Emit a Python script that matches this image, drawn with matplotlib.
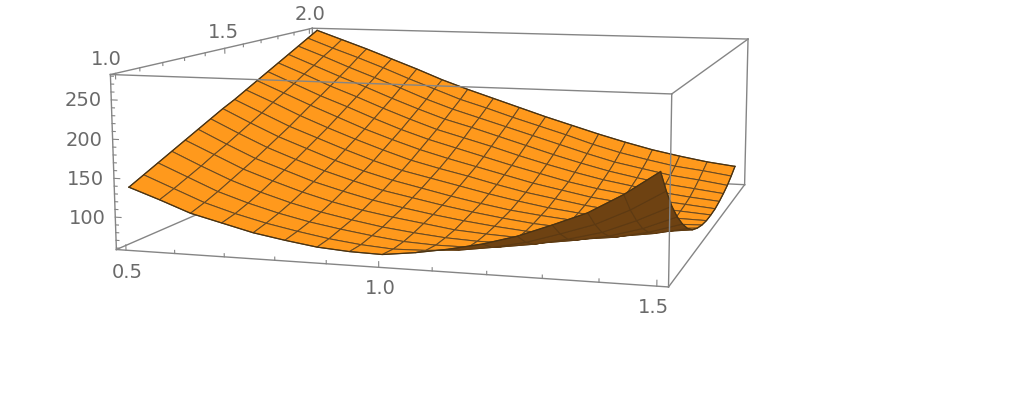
import numpy as np
import matplotlib
matplotlib.use('Agg')
import matplotlib.pyplot as plt
from mpl_toolkits.mplot3d import proj3d

plt.rcParams['font.family'] = ['DejaVu Sans']

# surface heights, rows go along y, columns along x
x_vals = np.linspace(0.5, 1.5, 17)
y_vals = np.linspace(1, 2, 17)
z_table = np.array([
    [137,123,108,98,88,81,75,72,71,76,83,92,104,120,137,161,190],
    [146,130,114,102,92,84,77,72,69,70,73,79,88,101,115,135,160],
    [155,138,121,108,97,88,81,75,70,68,68,71,77,86,97,114,134],
    [164,146,129,115,103,93,85,78,73,69,67,67,70,76,84,96,113],
    [173,155,137,123,110,99,90,83,77,71,68,66,66,69,74,83,96],
    [182,163,145,131,117,106,96,88,81,75,70,66,65,65,67,73,82],
    [191,172,154,139,125,113,102,94,86,79,73,68,65,64,64,67,72],
    [200,181,163,148,133,120,109,100,91,83,76,71,67,64,62,63,66],
    [208,190,172,157,142,128,116,107,98,89,81,74,69,65,63,61,62],
    [217,200,182,166,151,137,124,114,105,95,86,79,72,67,64,61,60],
    [226,209,192,176,160,146,133,122,112,102,92,84,76,71,66,63,60],
    [235,218,201,186,170,155,142,131,120,109,99,89,81,75,69,65,61],
    [244,228,211,196,180,165,151,140,129,117,106,96,87,80,73,68,64],
    [253,237,221,206,190,175,161,150,138,126,114,103,93,85,78,73,68],
    [262,247,231,216,201,185,171,159,147,135,123,111,100,92,84,79,73],
    [271,256,242,227,211,196,181,169,156,144,132,119,108,99,91,86,80],
    [280,266,252,237,222,206,192,179,166,153,141,129,118,108,100,93,88],
], dtype=float)

x_ticks = [0.5, 0.6, 0.7, 0.8, 0.9, 1.0, 1.1, 1.2, 1.3, 1.4, 1.5]
y_ticks = [1.0, 1.1, 1.2, 1.3, 1.4, 1.5, 1.6, 1.7, 1.8, 1.9, 2.0]
z_ticks = list(range(60, 281, 10))
z_major = [100, 150, 200, 250]
x_labels = ['0.5', '1.0', '1.5']
y_labels = ['1.0', '1.5', '2.0']

W, H = 1018, 402
S = 1018
xa, xc = 0.48, 1.52
ya, yc = 0.98, 2.02
za, zc = 58, 282
GRAY = '#858585'
TEXT = '#6a6a6a'

fig = plt.figure(figsize=(W/100, H/100), dpi=100)
ax = fig.add_axes([-63.19/W, -256.94/H, S/W, S/H], projection='3d', computed_zorder=False)
ax.set_xlim(xa, xc, view_margin=0)
ax.set_ylim(ya, yc, view_margin=0)
ax.set_zlim(za, zc, view_margin=0)
ax.set_axis_off()
ax.view_init(8.705, -73.149, 0.148)
ax.set_proj_type('persp', focal_length=0.3054)
ax.set_box_aspect((1, 0.9595, 0.3166), zoom=0.6886)
M = ax.get_proj()

def to2d(a, b, c):
    tx, ty, _ = proj3d.proj_transform(np.ravel(a), np.ravel(b), np.ravel(c), M)
    return np.reshape(tx, np.shape(a)), np.reshape(ty, np.shape(a))

def cell_area(px, py):
    # signed area of each mesh cell on screen
    d1x = px[1:, 1:] - px[:-1, :-1]
    d1y = py[1:, 1:] - py[:-1, :-1]
    d2x = px[1:, :-1] - px[:-1, 1:]
    d2y = py[1:, :-1] - py[:-1, 1:]
    return 0.5*(d1x*d2y - d2x*d1y)

X, Y = np.meshgrid(x_vals, y_vals)
ratio = cell_area(*to2d(X, Y, z_table)) / cell_area(*to2d(X, Y, np.full(X.shape, za, dtype=float)))

# shade by how much of the cell faces the viewer, underside is brown
top_dark = np.array([0.85, 0.45, 0.06, 1])
top_light = np.array([1.0, 0.60, 0.11, 1])
b = np.clip(ratio/0.4, 0, 1)[..., None]
colors = top_dark + (top_light - top_dark)*b
colors[ratio < 0] = [0.43, 0.26, 0.07, 1]
edge_colors = np.tile(matplotlib.colors.to_rgba('#6a4a22'), (*ratio.shape, 1))
edge_colors[ratio < 0] = matplotlib.colors.to_rgba('#5d3a12')

surf = ax.plot_surface(X, Y, z_table, rstride=1, cstride=1, facecolors=colors, shade=False, zorder=2)
surf.set_edgecolor(edge_colors.reshape(-1, 4))
surf.set_linewidth(0.75)

# dark outline round the sheet
for xs, ys, zs in [(x_vals, y_vals*0+1, z_table[0]), (x_vals, y_vals*0+2, z_table[-1]),
                   (x_vals*0+0.5, y_vals, z_table[:, 0]), (x_vals*0+1.5, y_vals, z_table[:, -1])]:
    ax.plot(xs, ys, zs, color='#4a3312', lw=0.9, zorder=2.5)

back_edges = [((xa, yc, za), (xc, yc, za)), ((xa, ya, za), (xa, yc, za)), ((xa, yc, za), (xa, yc, zc))]
front_edges = [((xa, ya, zc), (xc, ya, zc)), ((xc, ya, za), (xc, ya, zc)), ((xa, ya, za), (xc, ya, za)),
               ((xa, ya, za), (xa, ya, zc)), ((xa, ya, zc), (xa, yc, zc)), ((xa, yc, zc), (xc, yc, zc)),
               ((xc, ya, zc), (xc, yc, zc)), ((xc, yc, zc), (xc, yc, za)), ((xc, ya, za), (xc, yc, za))]
for e in back_edges:
    ax.plot(*zip(*e), color=GRAY, lw=1.0, zorder=1)
for e in front_edges:
    ax.plot(*zip(*e), color=GRAY, lw=1.0, zorder=3)

for t in x_ticks:
    ln = 7 if t in (0.5, 1.0, 1.5) else 4
    ax.plot([t, t], [ya, ya], [za, za+ln], color=GRAY, lw=0.8, zorder=3)
for t in y_ticks:
    ln = 7 if t in (1.0, 1.5, 2.0) else 4
    ax.plot([xa, xa], [t, t], [zc, zc-ln], color=GRAY, lw=0.8, zorder=3)
for t in z_ticks:
    ln = 0.012 if t in z_major else 0.006
    ax.plot([xa, xa+ln], [ya, ya], [t, t], color=GRAY, lw=0.8, zorder=3)

def label(s, a, b, c, dx, dy, ha='center'):
    tx, ty = to2d(a, b, c)
    ax.annotate(s, (float(tx), float(ty)), xytext=(dx, dy), textcoords='offset pixels',
                ha=ha, va='center', color=TEXT, fontsize=14)

for s, dx, dy in zip(x_labels, [1, 2, -3], [-21, -20, -20]):
    label(s, float(s), ya, za, dx, dy)
for s, dx, dy in zip(y_labels, [-9, -1, 1], [15, 17, 15]):
    label(s, xa, float(s), zc, dx, dy)
for t in z_major:
    label(str(t), xa, ya, t, -10, 0, ha='right')

fig.savefig('out.png', dpi=100)
